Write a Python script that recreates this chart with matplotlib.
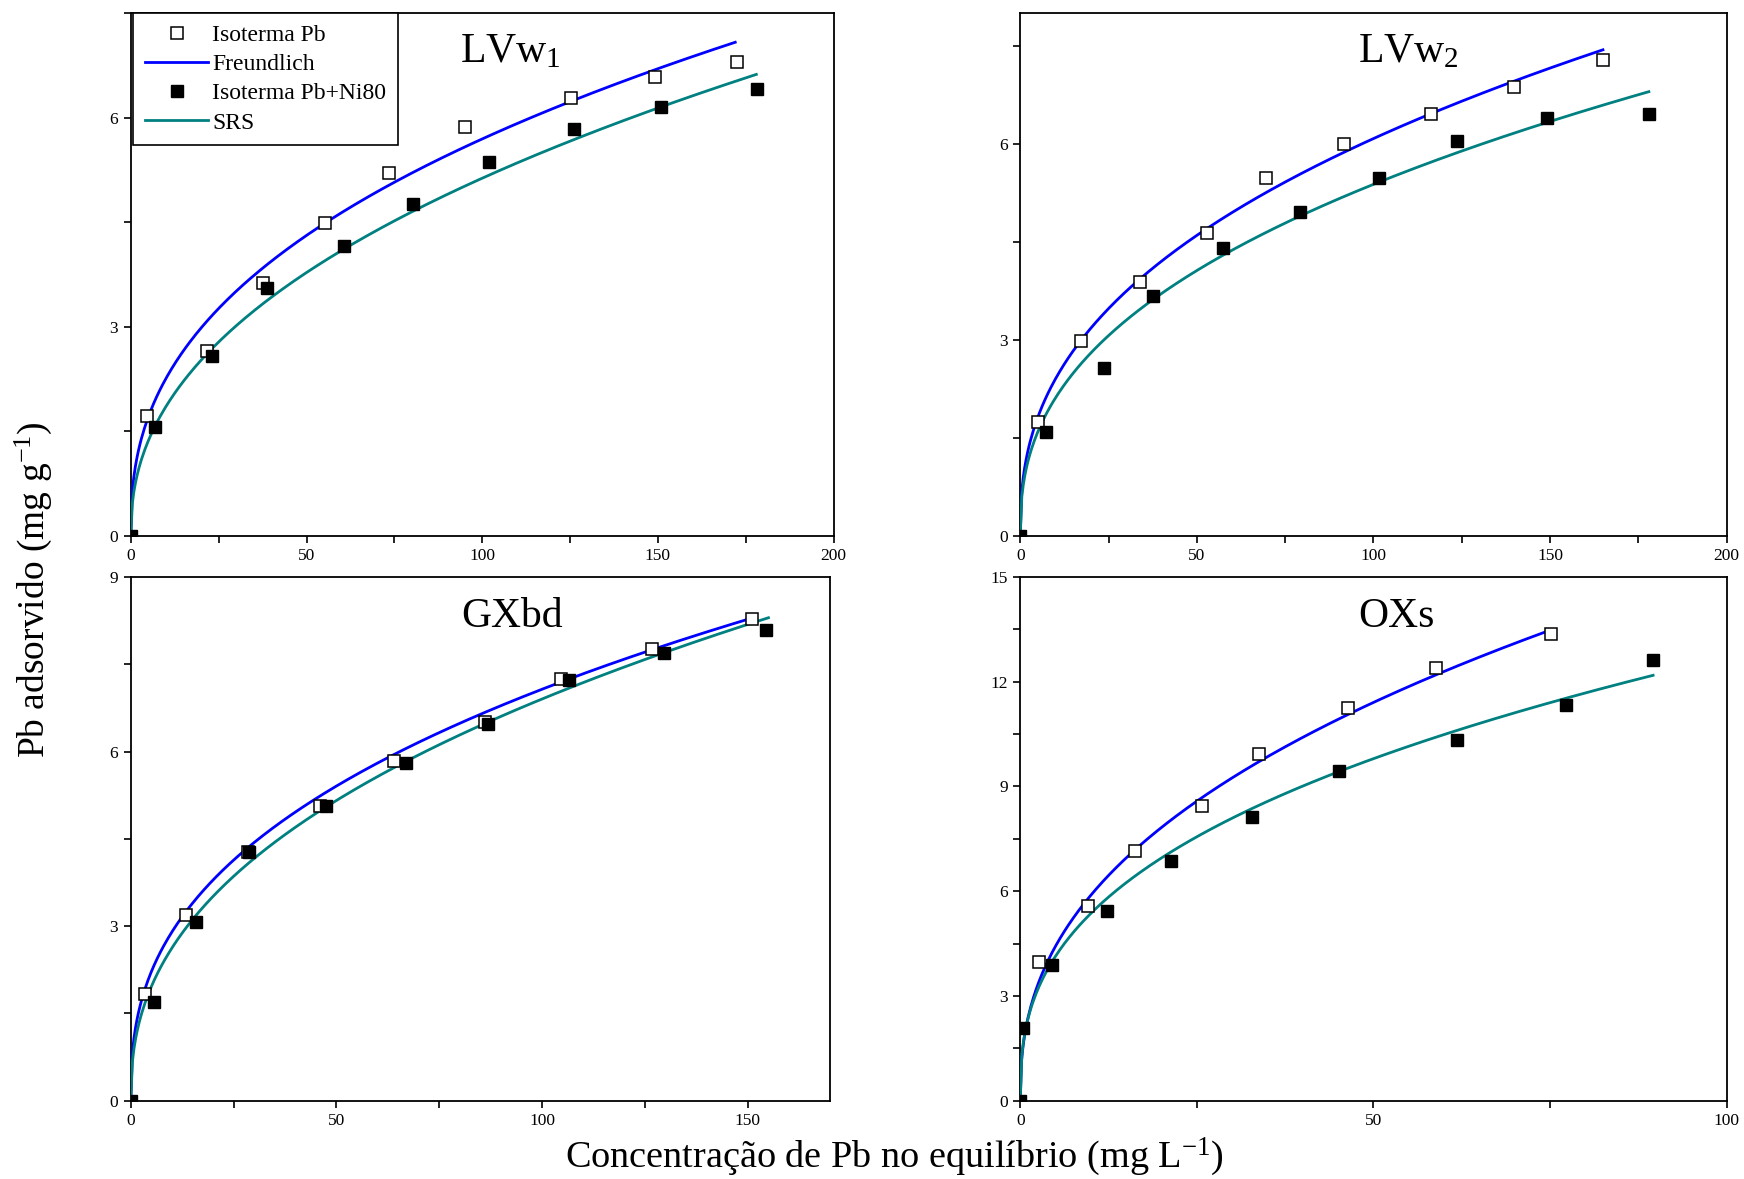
import numpy as np
import matplotlib.pyplot as plt
from matplotlib.ticker import MultipleLocator

plt.rcParams['font.family'] = ['Liberation Serif', 'DejaVu Serif']
plt.rcParams['mathtext.fontset'] = 'custom'
plt.rcParams['mathtext.rm'] = 'Liberation Serif'
plt.rcParams['mathtext.it'] = 'Liberation Serif:italic'

# panel names
panels = ['LVw$_1$', 'LVw$_2$', 'GXbd', 'OXs']

# Isoterma Pb (open squares)
pb_x = [
    [4.7, 21.6, 37.5, 55.3, 73.4, 95.1, 125.2, 149.3, 172.4],
    [5.0, 17.2, 33.8, 53.0, 69.5, 91.7, 116.3, 139.7, 164.9],
    [3.4, 13.4, 28.6, 46.1, 64.0, 86.0, 104.6, 126.7, 150.9],
    [2.6, 9.6, 16.2, 25.7, 33.8, 46.4, 58.9, 75.2],
]
pb_y = [
    [1.72, 2.65, 3.63, 4.49, 5.21, 5.86, 6.28, 6.58, 6.80],
    [1.74, 2.98, 3.89, 4.64, 5.48, 6.00, 6.46, 6.87, 7.28],
    [1.84, 3.19, 4.28, 5.06, 5.84, 6.50, 7.25, 7.76, 8.28],
    [3.96, 5.59, 7.15, 8.45, 9.93, 11.24, 12.38, 13.38],
]

# Isoterma Pb+Ni80 (filled squares)
pbni_x = [
    [0, 7.0, 23.1, 38.7, 60.7, 80.2, 101.8, 126.1, 150.9, 178.3],
    [0, 7.4, 23.6, 37.7, 57.4, 79.2, 101.7, 123.8, 149.1, 177.9],
    [0, 5.7, 15.9, 28.8, 47.5, 67.0, 86.9, 106.5, 129.5, 154.3],
    [0, 0.4, 4.5, 12.3, 21.4, 32.8, 45.1, 61.9, 77.2, 89.6],
]
pbni_y = [
    [0, 1.56, 2.58, 3.55, 4.16, 4.76, 5.36, 5.83, 6.15, 6.41],
    [0, 1.59, 2.56, 3.67, 4.40, 4.96, 5.48, 6.04, 6.39, 6.45],
    [0, 1.69, 3.07, 4.28, 5.07, 5.80, 6.48, 7.23, 7.70, 8.09],
    [0, 2.09, 3.88, 5.43, 6.86, 8.14, 9.45, 10.34, 11.34, 12.61],
]

# fitted model parameters (q = K * C^e) and curve end points
freund_k = [0.894, 0.95, 1.19, 2.285]
freund_e = [0.402, 0.403, 0.387, 0.411]
freund_end = [172, 165, 151, 75.2]
srs_k = [0.670, 0.829, 0.998, 2.268]
srs_e = [0.442, 0.406, 0.420, 0.374]
srs_end = [178, 178, 155, 89.6]

# axis limits
xmax = [200, 200, 170, 100]
ymax = [7.5, 8, 9, 15]

fig = plt.figure(figsize=(17.44, 11.79), dpi=100)
rects = [
    [0.075, 0.5456, 0.403, 0.4434],
    [0.585, 0.5456, 0.405, 0.4434],
    [0.075, 0.0664, 0.401, 0.4442],
    [0.585, 0.0664, 0.405, 0.4442],
]
title_x = [0.54, 0.549, 0.545, 0.533]

blue = '#0000ff'
teal = '#008080'

for i in range(4):
    ax = fig.add_axes(rects[i])
    c1 = np.linspace(0, freund_end[i], 400)
    c2 = np.linspace(0, srs_end[i], 400)
    ax.plot(pb_x[i], pb_y[i], 's', ms=8.5, mfc='white', mec='black', mew=1.1,
            label='Isoterma Pb', zorder=4)
    ax.plot(c1, freund_k[i] * c1 ** freund_e[i], color=blue, lw=2,
            label='Freundlich', zorder=3)
    ax.plot(pbni_x[i], pbni_y[i], 's', ms=8.5, mfc='black', mec='black',
            label='Isoterma Pb+Ni80', zorder=4)
    ax.plot(c2, srs_k[i] * c2 ** srs_e[i], color=teal, lw=2,
            label='SRS', zorder=3)

    ax.set_xlim(0, xmax[i])
    ax.set_ylim(0, ymax[i])
    ax.xaxis.set_major_locator(MultipleLocator(50))
    ax.xaxis.set_minor_locator(MultipleLocator(25))
    ax.yaxis.set_major_locator(MultipleLocator(3))
    ax.yaxis.set_minor_locator(MultipleLocator(1.5))
    ax.tick_params(which='both', direction='out', labelsize=12.5, width=1.2,
                   length=5, pad=4)
    for sp in ax.spines.values():
        sp.set_linewidth(1.3)

    ax.text(title_x[i], 0.925, panels[i], transform=ax.transAxes,
            fontsize=30, ha='center', va='center')

    if i == 0:
        leg = ax.legend(loc='upper left', bbox_to_anchor=(0.003, 1.0),
                        borderaxespad=0, fontsize=17, frameon=True,
                        fancybox=False, edgecolor='black', framealpha=1,
                        handlelength=2.7, handletextpad=0.15,
                        labelspacing=0.32, borderpad=0.5)
        leg.get_frame().set_linewidth(1.2)

fig.text(0.019, 0.50, 'Pb adsorvido (mg g$^{-1}$)', rotation=90, fontsize=27,
         ha='center', va='center')
fig.text(0.513, 0.019, 'Concentração de Pb no equilíbrio (mg L$^{-1}$)',
         fontsize=27.5, ha='center', va='center')

fig.savefig('out.png', dpi=100)
